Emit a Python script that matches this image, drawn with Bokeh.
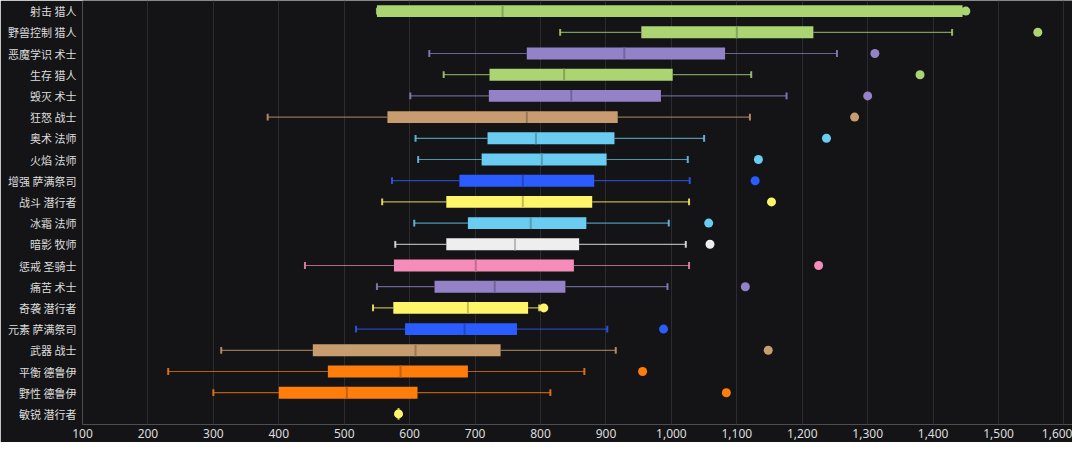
from bokeh.plotting import figure
from bokeh.models import FactorRange, Range1d, FixedTicker, NumeralTickFormatter, Label, ColumnDataSource
from bokeh.embed import file_html
from bokeh.resources import INLINE

# ---- data (top to bottom as in the chart) ----
specs = ["射击 猎人", "野兽控制 猎人", "恶魔学识 术士", "生存 猎人", "毁灭 术士", "狂怒 战士",
         "奥术 法师", "火焰 法师", "增强 萨满祭司", "战斗 潜行者", "冰霜 法师", "暗影 牧师",
         "惩戒 圣骑士", "痛苦 术士", "奇袭 潜行者", "元素 萨满祭司", "武器 战士", "平衡 德鲁伊",
         "野性 德鲁伊", "敏锐 潜行者"]
low = [550, 830, 630, 652, 601, 383, 609, 613, 573, 558, 607, 578, 440, 550, 544, 518, 312, 231, 300, 583]
q1 = [550, 954, 779, 722, 721, 566, 719, 710, 676, 656, 689, 656, 576, 638, 575, 593, 452, 475, 400, 583]
median = [742, 1100, 928, 836, 847, 779, 793, 802, 773, 773, 785, 761, 701, 730, 689, 684, 609, 586, 504, 583]
q3 = [1445, 1217, 1082, 1002, 984, 918, 913, 901, 882, 879, 870, 859, 851, 838, 781, 764, 739, 689, 612, 583]
high = [1445, 1429, 1253, 1122, 1176, 1120, 1050, 1025, 1028, 1027, 996, 1022, 1027, 994, 798, 902, 915, 867, 815, 583]
outlier = [1450, 1560, 1311, 1380, 1300, 1280, 1237, 1133, 1128, 1153, 1057, 1059, 1225, 1113, 805, 988, 1148, 956, 1084, 583]
x_ticks = list(range(100, 1700, 100))
class_colors = {
    "猎人": "#ABD473", "术士": "#9482C9", "战士": "#C79C6E", "法师": "#69CCF0",
    "萨满祭司": "#2B5CFF", "潜行者": "#FFF569", "牧师": "#EEEEEE", "圣骑士": "#F58CBA",
    "德鲁伊": "#FF7D0A",
}
colors = [class_colors[s.split(" ")[1]] for s in specs]


def darker(hexc, f=0.78):
    r, g, b = int(hexc[1:3], 16), int(hexc[3:5], 16), int(hexc[5:7], 16)
    return "#%02x%02x%02x" % (int(r * f), int(g * f), int(b * f))


src = ColumnDataSource(dict(spec=specs, low=low, q1=q1, med=median, q3=q3, high=high,
                            out=outlier, color=colors, dark=[darker(c) for c in colors]))

BG = "#141416"
p = figure(width=1072, height=442, output_backend="svg", toolbar_location=None,
           y_range=FactorRange(factors=list(reversed(specs)), range_padding=0),
           x_range=Range1d(100, 1613),
           background_fill_color=BG, border_fill_color=BG, outline_line_color=None,
           min_border_left=82, min_border_right=0, min_border_top=0, min_border_bottom=18)

# whiskers
p.segment(x0="low", y0="spec", x1="q1", y1="spec", line_color="color", line_alpha=0.7,
          line_width=1.2, source=src)
p.segment(x0="q3", y0="spec", x1="high", y1="spec", line_color="color", line_alpha=0.7,
          line_width=1.2, source=src)
# caps
p.rect(x="low", y="spec", width=2, width_units="screen", height=0.32, fill_color="color",
       fill_alpha=0.85, line_color=None, source=src)
p.rect(x="high", y="spec", width=2, width_units="screen", height=0.32, fill_color="color",
       fill_alpha=0.85, line_color=None, source=src)
# boxes
p.hbar(y="spec", left="q1", right="q3", height=0.56, fill_color="color", line_color=None, source=src)
# medians
p.rect(x="med", y="spec", width=2, width_units="screen", height=0.56, fill_color="dark",
       line_color=None, source=src)
# outliers
p.scatter(x="out", y="spec", size=9, fill_color="color", line_color=None, source=src)

# axes styling
p.xaxis.ticker = FixedTicker(ticks=x_ticks)
p.xaxis.formatter = NumeralTickFormatter(format="0,0")
p.xaxis.axis_line_color = None
p.xaxis.major_tick_line_color = None
p.xaxis.minor_tick_line_color = None
p.xaxis.major_tick_out = 0
p.xaxis.major_tick_in = 0
p.xaxis.major_label_standoff = 4
p.xaxis.major_label_text_color = "#dddddd"
p.xaxis.major_label_text_font = "Noto Sans"
p.xaxis.major_label_text_font_size = "12px"

p.yaxis.axis_line_color = None
p.yaxis.major_tick_line_color = None
p.yaxis.major_tick_out = 2
p.yaxis.major_label_standoff = 4
p.yaxis.major_label_text_color = "#dddddd"
p.yaxis.major_label_text_font = "Noto Sans CJK SC"
p.yaxis.major_label_text_font_size = "11px"

p.xgrid.ticker = FixedTicker(ticks=x_ticks)
p.xgrid.grid_line_color = "#2c2c30"
p.xgrid.grid_line_width = 1
p.ygrid.grid_line_color = None

p.add_layout(Label(x=900, x_units="data", y=-20, y_units="screen", text="秒伤",
                   text_align="center", text_baseline="top", text_color="#dddddd",
                   text_font="Noto Sans CJK SC", text_font_size="12px"))

open("out.html", "w").write(file_html(p, INLINE))
